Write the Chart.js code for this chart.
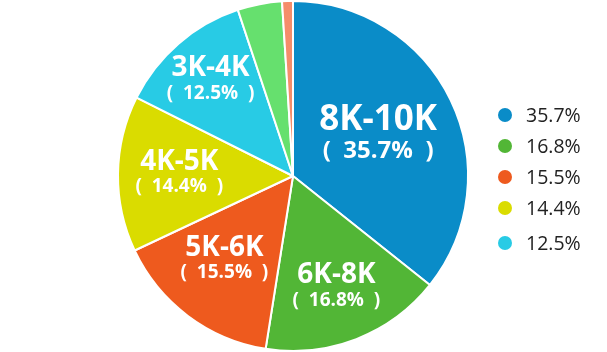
<!DOCTYPE html>
<html><head><meta charset="utf-8">
<script src="https://cdn.jsdelivr.net/npm/chart.js@4/dist/chart.umd.min.js"></script>
<style>html,body{margin:0;padding:0;background:#fff}#wrap{width:607px;height:352px;position:relative}</style>
</head><body><div id="wrap"><canvas id="c" width="607" height="352"></canvas></div>
<script>
const categories = ["8K-10K", "6K-8K", "5K-6K", "4K-5K", "3K-4K", "2K-3K", "<2K"];
const values = [35.7, 16.8, 15.5, 14.4, 12.5, 4.1, 1.0];
const colors = ["#0a8cc8", "#52b636", "#ee5a1e", "#dadc00", "#28cbe5", "#66e06e", "#f58d6a"];
const legendCount = 5;

const labelPlugin = {
  id: 'sliceLabels',
  afterDatasetsDraw(chart) {
    const ctx = chart.ctx;
    const meta = chart.getDatasetMeta(0);
    ctx.save();
    ctx.textAlign = 'center';
    ctx.textBaseline = 'middle';
    const font = '"Open Sans", "Noto Sans", sans-serif';
    const angShift = [0, 0, 0.04, 0, 0];
    meta.data.forEach((arc, i) => {
      if (i >= legendCount) return;
      const mid = (arc.startAngle + arc.endAngle) / 2 + angShift[i];
      const big = i === 0;
      const rf = [0.54, 0.685, 0.62, 0.65, 0.72][i];
      const r = arc.outerRadius * rf;
      const x = arc.x + Math.cos(mid) * r;
      const y = arc.y + Math.sin(mid) * r;
      ctx.fillStyle = '#fff';
      ctx.font = 'bold ' + (big ? 35 : 28) + 'px ' + font;
      ctx.fillText(categories[i], x, y - (big ? 15 : 12.5));
      ctx.font = 'bold ' + (big ? 24 : 19) + 'px ' + font;
      ctx.fillText('(  ' + values[i].toFixed(1) + '%  )', x, y + (big ? 16 : 12.5));
    });
    // legend
    const ys = [115, 146, 177, 208, 243];
    for (let i = 0; i < legendCount; i++) {
      ctx.beginPath();
      ctx.fillStyle = colors[i];
      ctx.arc(505, ys[i], 7, 0, Math.PI * 2);
      ctx.fill();
      ctx.fillStyle = '#222';
      ctx.textAlign = 'left';
      ctx.font = '19.5px ' + font;
      ctx.fillText(values[i].toFixed(1) + '%', 526, ys[i] + 1);
    }
    ctx.restore();
  }
};

new Chart(document.getElementById('c'), {
  type: 'pie',
  data: {
    labels: categories,
    datasets: [{ data: values, backgroundColor: colors, borderColor: '#fff', borderWidth: 2 }]
  },
  options: {
    responsive: false,
    animation: false,
    layout: { padding: { left: 117, right: 138, top: 0, bottom: 0 } },
    plugins: { legend: { display: false }, tooltip: { enabled: false } }
  },
  plugins: [labelPlugin]
});
</script>
</body></html>
